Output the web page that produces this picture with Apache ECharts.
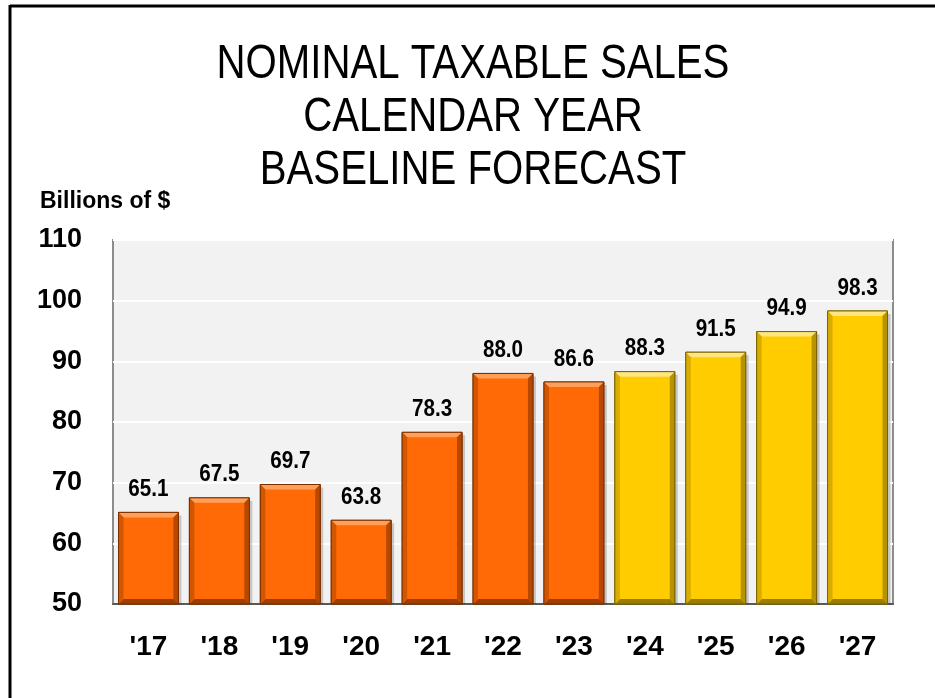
<!DOCTYPE html>
<html>
<head>
<meta charset="utf-8">
<script src="https://cdn.jsdelivr.net/npm/echarts@6/dist/echarts.min.js"></script>
<style>
  html, body { margin: 0; padding: 0; background: #ffffff; }
  #chart { width: 935px; height: 698px; }
</style>
</head>
<body>
<div id="chart"></div>
<script>
// Calendar-year taxable sales, billions of dollars
const years = ["'17", "'18", "'19", "'20", "'21", "'22", "'23", "'24", "'25", "'26", "'27"];
const actualSales = [65.1, 67.5, 69.7, 63.8, 78.3, 88.0, 86.6, null, null, null, null];
const forecastSales = [null, null, null, null, null, null, null, 88.3, 91.5, 94.9, 98.3];
const yTicks = { min: 50, max: 110, step: 10 };

const SANS = "'Liberation Sans', Arial, sans-serif";
const NARROW_SCALE = 0.82;   // horizontal squeeze for the condensed look

const palettes = {
  actual:   { face: '#FF6A06', top: '#FFA05A', side: '#B84800', bottom: '#9E3D00', left: '#D25500', edge: '#7A3000' },
  forecast: { face: '#FFCC00', top: '#FFE680', side: '#B89300', bottom: '#9C7C00', left: '#D9AD00', edge: '#7A6200' }
};

// Bevelled bar drawn through the axis scales
function bevelBar(pal) {
  return function (params, api) {
    const v = api.value(1);
    if (v == null || isNaN(v)) return null;
    const topPt = api.coord([api.value(0), v]);
    const basePt = api.coord([api.value(0), yTicks.min]);
    const w = api.size([1, 0])[0] * 0.845;
    const x0 = topPt[0] - w / 2, x1 = topPt[0] + w / 2;
    const y0 = topPt[1], y1 = basePt[1];
    const b = 5;
    return {
      type: 'group',
      children: [
        { type: 'rect', shape: { x: x0 + 3, y: y0 + 3, width: w, height: y1 - y0 - 3 },
          style: { fill: 'rgba(0,0,0,0.18)' } },
        { type: 'rect', shape: { x: x0, y: y0, width: w, height: y1 - y0 },
          style: { fill: pal.face, stroke: pal.edge, lineWidth: 1 } },
        { type: 'polygon', shape: { points: [[x0, y0], [x1, y0], [x1 - b, y0 + b], [x0 + b, y0 + b]] },
          style: { fill: pal.top } },
        { type: 'polygon', shape: { points: [[x1, y0], [x1, y1], [x1 - b, y1 - b], [x1 - b, y0 + b]] },
          style: { fill: pal.side } },
        { type: 'polygon', shape: { points: [[x0, y1], [x1, y1], [x1 - b, y1 - b], [x0 + b, y1 - b]] },
          style: { fill: pal.bottom } },
        { type: 'polygon', shape: { points: [[x0, y0], [x0 + b, y0 + b], [x0 + b, y1 - b], [x0, y1]] },
          style: { fill: pal.left } },
        { type: 'rect', shape: { x: x0, y: y0, width: w, height: y1 - y0 },
          style: { fill: 'none', stroke: pal.edge, lineWidth: 1 } },
        { type: 'text', x: topPt[0], y: y0 - 11, scaleX: 0.86,
          style: { text: v.toFixed(1), textAlign: 'center', textVerticalAlign: 'bottom',
                   font: 'bold 24px ' + SANS, fill: '#000' } }
      ]
    };
  };
}

const chart = echarts.init(document.getElementById('chart'), null, { renderer: 'canvas' });

chart.setOption({
  backgroundColor: '#ffffff',
  animation: false,
  graphic: [
    { type: 'line', shape: { x1: 10, y1: 6, x2: 935, y2: 6 }, style: { stroke: '#000', lineWidth: 3 } },
    { type: 'line', shape: { x1: 10, y1: 5, x2: 10, y2: 698 }, style: { stroke: '#000', lineWidth: 3 } },
    { type: 'text', x: 473, y: 38, scaleX: NARROW_SCALE,
      style: { text: 'NOMINAL TAXABLE SALES\nCALENDAR YEAR\nBASELINE FORECAST',
               textAlign: 'center', font: '49px ' + SANS, lineHeight: 53, fill: '#000' } },
    { type: 'text', x: 40, y: 190,
      style: { text: 'Billions of $', font: 'bold 23px ' + SANS, fill: '#000' } }
  ],
  grid: {
    left: 113, right: 42, top: 240, bottom: 94,
    show: true, backgroundColor: '#F2F2F2', borderColor: '#8C8C8C', borderWidth: 2
  },
  xAxis: {
    type: 'category',
    data: years,
    axisLine: { lineStyle: { color: '#595959', width: 2 } },
    axisTick: { show: false },
    axisLabel: { margin: 29, color: '#000', fontFamily: SANS, fontWeight: 'bold', fontSize: 28 }
  },
  yAxis: {
    type: 'value',
    min: yTicks.min, max: yTicks.max, interval: yTicks.step,
    axisLine: { show: false },
    axisTick: { show: false },
    splitLine: { lineStyle: { color: '#FFFFFF', width: 2 } },
    axisLabel: { margin: 31, color: '#000', fontFamily: SANS, fontWeight: 'bold', fontSize: 27 }
  },
  series: [
    {
      name: 'Actual', type: 'custom',
      renderItem: bevelBar(palettes.actual),
      data: actualSales.map((v, i) => [i, v]),
      encode: { x: 0, y: 1 }, z: 3
    },
    {
      name: 'Forecast', type: 'custom',
      renderItem: bevelBar(palettes.forecast),
      data: forecastSales.map((v, i) => [i, v]),
      encode: { x: 0, y: 1 }, z: 3
    }
  ]
});
</script>
</body>
</html>
